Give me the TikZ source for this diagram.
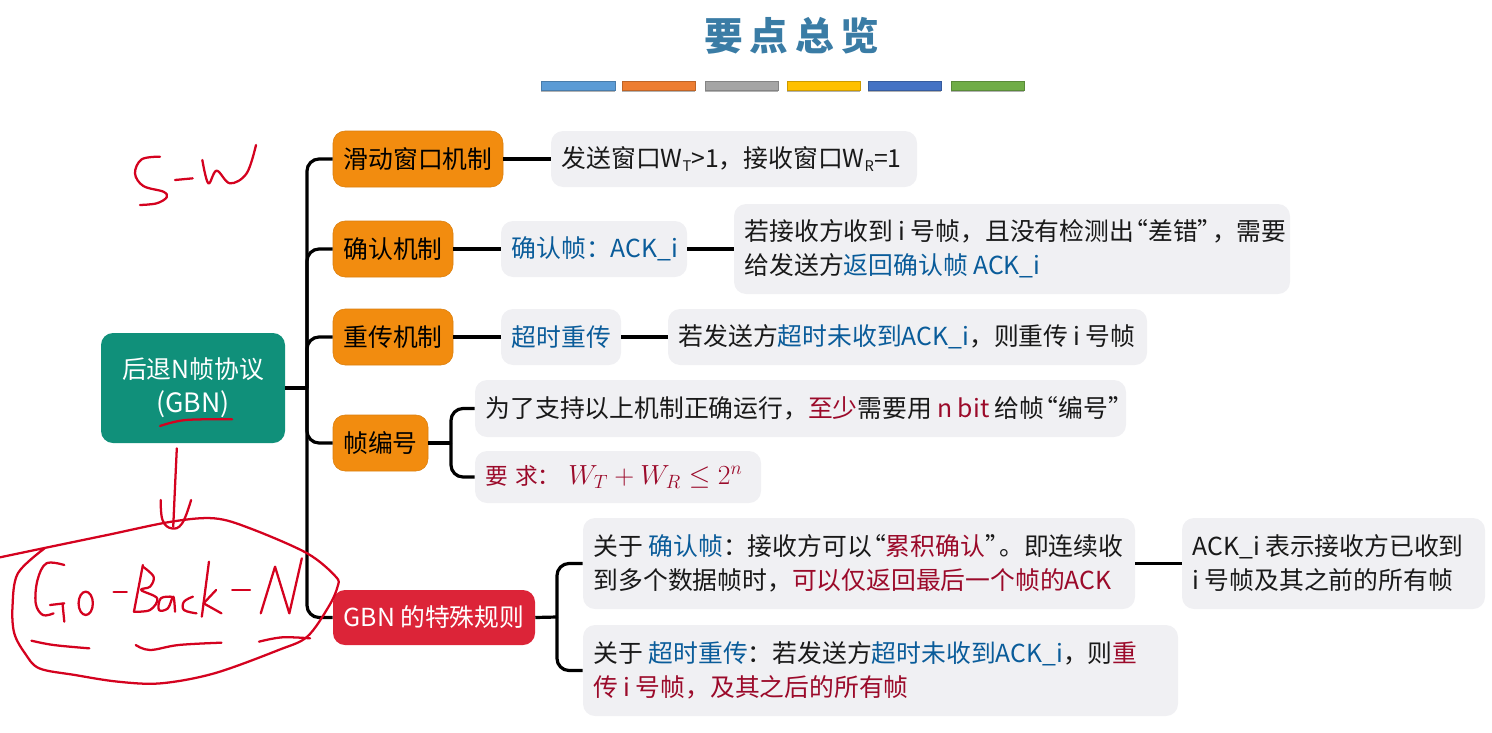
\documentclass[tikz,border=0pt]{standalone}
\usepackage{fontspec}
\newfontfamily\cjk{Noto Sans CJK SC}
\definecolor{orangebox}{HTML}{F28C0F}
\definecolor{greenbox}{HTML}{10907A}
\definecolor{redbox}{HTML}{DC2438}
\definecolor{greybox}{HTML}{F0F0F3}
\definecolor{kblue}{HTML}{0A5C9A}
\definecolor{kred}{HTML}{9B0A2A}
\definecolor{titleblue}{HTML}{3A7CA5}
\definecolor{ink}{HTML}{D4021F}
\newcommand\kb[1]{\textcolor{kblue}{#1}}
\newcommand\kr[1]{\textcolor{kred}{#1}}
\newcommand\subt[1]{\raisebox{-0.25ex}{\fontsize{11}{11}\selectfont #1}}
\newcommand\tsp{\kern4pt\relax}
\newcommand\oq{\kern-8pt“}
\newcommand\cq{”\kern-8pt\relax}
\newcommand\fcm{\char"FF0C\relax}
\newcommand\fcl{\char"FF1A\relax}
\tikzset{
  basebox/.style={rounded corners=9pt,inner sep=0pt,font=\cjk\fontsize{18.6}{25.5}\selectfont},
  orangenode/.style={basebox,fill=orangebox,draw=orangebox!90!black,line width=0.4pt,align=center,text=black},
  rootnode/.style={basebox,fill=greenbox,align=center,text=white},
  rednode/.style={basebox,fill=redbox,align=center,text=white},
  greynode/.style={basebox,fill=greybox,align=left,text=black!90},
  conn/.style={draw=black,line width=2.4pt,rounded corners=9pt},
  stroke/.style={draw=ink,line width=1.7pt,line cap=round,line join=round},
  bar/.style={line width=0.6pt}
}
\newcommand\tbox[7]{%
  \pgfmathsetmacro\bxw{(#5-#3)*0.75}%
  \pgfmathsetmacro\bxh{(#6-#4)*0.75}%
  \pgfmathsetmacro\bxc{(#3+#5)/2}%
  \pgfmathsetmacro\byc{(#4+#6)/2}%
  \node[#1,minimum width=\bxw pt,minimum height=\bxh pt] (#2) at (\bxc,\byc) {#7};}
\newcommand\gbox[6]{%
  \pgfmathsetmacro\bxw{(#4-#2)*0.75}%
  \pgfmathsetmacro\bxh{(#5-#3)*0.75}%
  \pgfmathsetmacro\bxt{(#4-#2)*0.75-16}%
  \pgfmathsetmacro\bxc{(#2+#4)/2}%
  \pgfmathsetmacro\byc{(#3+#5)/2}%
  \node[greynode,text width=\bxt pt,minimum height=\bxh pt,inner xsep=8pt] (#1) at (\bxc,\byc) {#6};}
\begin{document}
\begin{tikzpicture}[x=0.75pt,y=-0.75pt]
\useasboundingbox (0,0) rectangle (1492,732);
\node[font=\cjk\bfseries\fontsize{29}{29}\selectfont,text=titleblue] (title) at (792,36) {要\hspace{5pt}点\hspace{5pt}总\hspace{5pt}览};
% bars
\foreach \xa/\xb/\cc/\nm in {541/615/5B9BD5/a,622/695/ED7D31/b,705/778/A5A5A5/c,787/860/FFC000/d,868/941/4472C4/e,951/1024/70AD47/f}{
  \definecolor{barc}{HTML}{\cc}
  \fill[black!30] (\xa,85) rectangle (\xb,92);
  \draw[bar,fill=barc,draw=barc!80!black] (\xa,81) rectangle (\xb,90);
}
% boxes
\tbox{rootnode}{root}{101}{333}{285}{443}{后退N帧协议\\{\fontsize{20}{25.5}\selectfont (GBN)}}
\tbox{orangenode}{oa}{333}{131}{503}{187}{滑动窗口机制}
\tbox{orangenode}{ob}{333}{221}{453}{277}{确认机制}
\tbox{orangenode}{oc}{333}{309}{453}{365}{重传机制}
\tbox{orangenode}{od}{333}{415}{428}{471}{帧编号}
\tbox{rednode}{oe}{333}{590}{535}{645}{GBN\tsp 的特殊规则}
\gbox{ga}{551}{131}{917}{187}{发送窗口W\subt{T}>1\fcm 接收窗口W\subt{R}=1}
\gbox{gb}{501}{221}{687}{277}{\kb{确认帧\fcl ACK\_i}}
\gbox{gc}{734}{204}{1290}{294}{若接收方收到\tsp i\tsp 号帧\fcm 且没有检测出\oq 差错\cq\fcm 需要\\给发送方\kb{返回确认帧\tsp ACK\_i}}
\gbox{gd}{501}{309}{621}{365}{\kb{超时重传}}
\gbox{ge}{668}{309}{1147}{365}{若发送方\kb{超时未收到ACK\_i}\fcm 则重传\tsp i\tsp 号帧}
\gbox{gf}{475}{380}{1126}{437}{为了支持以上机制正确运行\fcm\kr{至少}需要用\tsp\kr{n\tsp bit}\tsp 给帧\oq 编号\cq}
\gbox{gg}{475}{451}{761}{503}{\kr{{\fontsize{17}{18}\selectfont 要\kern5pt 求\fcl}\kern6pt\fontsize{22.3}{21}\selectfont$W_T+W_R\leq 2^n$}}
\gbox{gh}{583}{518}{1135}{609}{关于\tsp\kb{确认帧}\fcl 接收方可以\oq\kr{累积确认}\cq。即连续收\\到多个数据帧时\fcm\kr{可以仅返回最后一个帧的ACK}}
\gbox{gi}{1182}{518}{1485}{609}{ACK\_i\tsp 表示接收方已收到\\i\tsp 号帧及其之前的所有帧}
\gbox{gj}{583}{625}{1178}{716}{关于\tsp\kb{超时重传}\fcl 若发送方\kb{超时未收到ACK\_i}\fcm 则\kr{重}\\\kr{传\tsp i\tsp 号帧\fcm 及其之后的所有帧}}
% connectors
\coordinate (sj) at (307,388);
\coordinate (dj) at (451,443);
\coordinate (ej) at (557,617);
\draw[conn] (root.east) -- (sj);
\draw[conn] (sj) |- (oa.west);
\draw[conn] (sj) |- (ob.west);
\draw[conn] (sj) |- (oc.west);
\draw[conn] (sj) |- (od.west);
\draw[conn] (sj) |- (oe.west);
\draw[conn] (oa.east) -- (ga.west);
\draw[conn] (ob.east) -- (gb.west);
\draw[conn] (gb.east) -- (gc.west);
\draw[conn] (oc.east) -- (gd.west);
\draw[conn] (gd.east) -- (ge.west);
\draw[conn] (od.east) -- (dj);
\draw[conn] (dj) |- (gf.west);
\draw[conn] (dj) |- (gg.west);
\draw[conn] (oe.east) -- (ej);
\draw[conn] (ej) |- (gh.west);
\draw[conn] (ej) |- (gj.west);
\draw[conn] (gh.east) -- (gi.west);
% handwriting S-W
\begin{scope}[x=0.25pt,y=-0.25pt]
\draw[stroke] plot[smooth,tension=0.6] coordinates {(480,470) (425,478) (405,520) (430,558) (490,575) (500,592) (470,610) (420,615)};
\draw[stroke] (525,540) -- (578,535);
\draw[stroke] plot[smooth,tension=0.6] coordinates {(607,480) (625,550) (650,512) (690,550) (740,520) (768,435)};
\end{scope}
% handwriting Go-Back-N
\begin{scope}[shift={(0,320)},x=0.2679pt,y=-0.25pt]
\draw[stroke] plot[smooth,tension=0.55] coordinates {(0,712) (120,685) (300,645) (480,605) (600,595) (700,625) (860,700) (940,770) (945,800) (920,860) (860,950) (780,990) (600,1060) (450,1090) (330,1085) (210,1065) (110,1045) (70,1000) (40,940) (35,860) (50,760) (125,685)};
\draw[stroke] plot[smooth,tension=0.6] coordinates {(180,735) (130,730) (105,780) (100,850) (120,885) (150,880)};
\draw[stroke] (140,855) -- (180,850) (175,850) -- (180,905);
\draw[stroke] (240,850) ellipse [x radius=20,y radius=35];
\draw[stroke] (318,815) -- (355,815);
\draw[stroke] (400,735) -- (375,875);
\draw[stroke] plot[smooth,tension=0.6] coordinates {(400,740) (430,770) (420,800) (395,810) (440,835) (420,870) (375,875)};
\draw[stroke] plot[smooth,tension=0.6] coordinates {(480,830) (450,835) (445,870) (470,865) (485,830) (490,875)};
\draw[stroke] plot[smooth,tension=0.6] coordinates {(540,830) (515,845) (515,870) (550,880)};
\draw[stroke] (585,725) -- (565,890);
\draw[stroke] (605,810) -- (570,850) -- (620,880);
\draw[stroke] (650,810) -- (700,810);
\draw[stroke] (730,880) -- (770,740) -- (810,880) -- (845,715);
\draw[stroke] plot[smooth,tension=0.6] coordinates {(88,962) (150,975) (250,985)};
\draw[stroke] plot[smooth,tension=0.6] coordinates {(380,975) (420,990) (500,975) (620,968)};
\draw[stroke] plot[smooth,tension=0.6] coordinates {(725,965) (790,952) (868,955)};
\draw[stroke] plot[smooth,tension=0.6] coordinates {(495,385) (490,500) (485,620)};
\draw[stroke] plot[smooth,tension=0.7] coordinates {(450,540) (455,600) (480,625) (510,610) (535,540)};
\draw[stroke] plot[smooth,tension=0.6] coordinates {(448,318) (520,300) (650,298)};
\end{scope}
\end{tikzpicture}
\end{document}
